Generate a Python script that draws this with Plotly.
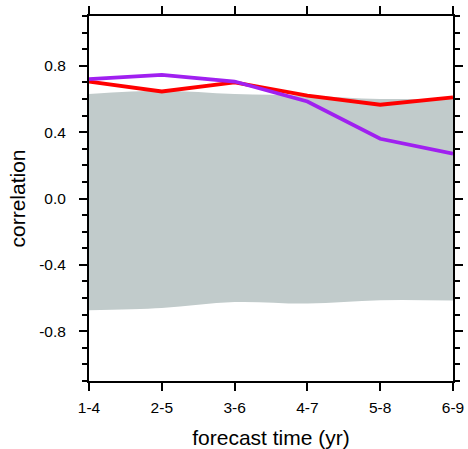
import plotly.graph_objects as go

categories = ["1-4", "2-5", "3-6", "4-7", "5-8", "6-9"]
band_upper = [0.63, 0.65, 0.63, 0.62, 0.60, 0.605]
band_lower = [-0.674, -0.66, -0.624, -0.633, -0.613, -0.615]
red_values = [0.705, 0.645, 0.70, 0.62, 0.565, 0.61]
purple_values = [0.72, 0.745, 0.705, 0.585, 0.36, 0.27]

x = list(range(len(categories)))

fig = go.Figure()
fig.add_trace(go.Scatter(x=x, y=band_lower, mode="lines", line=dict(width=0, shape="spline"),
                         showlegend=False, hoverinfo="skip"))
fig.add_trace(go.Scatter(x=x, y=band_upper, mode="lines", line=dict(width=0, shape="spline"),
                         fill="tonexty", fillcolor="#C1CBCB", showlegend=False, hoverinfo="skip"))
fig.add_trace(go.Scatter(x=x, y=red_values, mode="lines", line=dict(color="#FF0000", width=3.8),
                         showlegend=False))
fig.add_trace(go.Scatter(x=x, y=purple_values, mode="lines", line=dict(color="#A020F0", width=3.8),
                         showlegend=False))

font_family = "Liberation Sans, Arial, sans-serif"
axis_common = dict(showline=True, linecolor="black", linewidth=2, mirror="ticks",
                   ticks="outside", tickcolor="black", tickwidth=2, showgrid=False, zeroline=False,
                   automargin=False,
                   tickfont=dict(family=font_family, size=15.5, color="black"))

fig.update_xaxes(range=[0, 5], tickmode="array", tickvals=x, ticktext=categories, ticklen=8,
                 ticklabelstandoff=3,
                 title=dict(text="forecast time (yr)", font=dict(family=font_family, size=21, color="black"),
                            standoff=16),
                 **axis_common)
fig.update_yaxes(range=[-1.1, 1.1], tickmode="array", tickvals=[-0.8, -0.4, 0.0, 0.4, 0.8],
                 ticktext=["-0.8", "-0.4", "0.0", "0.4", "0.8"], ticklen=8,
                 ticklabelstandoff=10,
                 minor=dict(dtick=0.1, ticks="outside", ticklen=5, tickwidth=1.5, tickcolor="black", showgrid=False),
                 title=dict(text="correlation", font=dict(family=font_family, size=21, color="black"),
                            standoff=8),
                 **axis_common)

fig.update_layout(width=468, height=449, margin=dict(l=89, r=15, t=16, b=68, autoexpand=False),
                  plot_bgcolor="white", paper_bgcolor="white")

fig.write_html("out.html", config={"displayModeBar": False},
               post_script="document.body.style.margin='0';document.body.style.padding='0';")
